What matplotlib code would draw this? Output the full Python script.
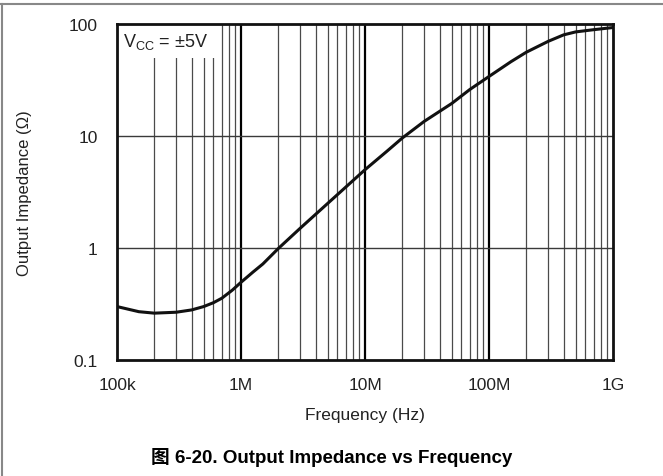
import numpy as np
import matplotlib
matplotlib.use('Agg')
from matplotlib import pyplot as plt
from matplotlib.lines import Line2D
from matplotlib.patches import Rectangle

plt.rcParams['font.family'] = ['Liberation Sans', 'DejaVu Sans']

# values
freq_hz = [1e5, 1.5e5, 2e5, 3e5, 4e5, 5e5, 6e5, 7e5, 8.5e5, 1e6, 1.25e6,
           1.5e6, 2e6, 3e6, 5e6, 7e6, 1e7, 1.5e7, 2e7, 3e7, 5e7, 7e7, 1e8,
           1.5e8, 2e8, 3e8, 4e8, 5e8, 7e8, 1e9]
impedance_ohm = [0.30, 0.27, 0.262, 0.267, 0.28, 0.30, 0.325, 0.356, 0.42,
                 0.494, 0.61, 0.72, 0.99, 1.5, 2.5, 3.5, 5.0, 7.3, 9.6,
                 13.5, 19.5, 26, 34, 46, 56, 70, 80, 85, 89, 93]

x_ticks = [1e5, 1e6, 1e7, 1e8, 1e9]
x_labels = ['100k', '1M', '10M', '100M', '1G']
y_ticks = [0.1, 1, 10, 100]
y_labels = ['0.1', '1', '10', '100']

fig = plt.figure(figsize=(6.63, 4.77), dpi=100)
ax = fig.add_axes([117 / 663, 1 - 361 / 477, 496 / 663, 336 / 477])

ax.set_xscale('log')
ax.set_yscale('log')
ax.set_xlim(1e5, 1e9)
ax.set_ylim(0.1, 100)

# grid: heavy decade lines, light minor lines on x only
for d in x_ticks[1:-1]:
    ax.axvline(d, color='black', lw=1.6, zorder=1)
for d in x_ticks[:-1]:
    for m in range(2, 10):
        ax.axvline(d * m, color='#4a4a4a', lw=0.9, zorder=1)
for d in y_ticks[1:-1]:
    ax.axhline(d, color='#3a3a3a', lw=1.0, zorder=1)

ax.plot(freq_hz, impedance_ohm, color='#111111', lw=2.2, zorder=3,
        solid_capstyle='round', solid_joinstyle='round')

# white box behind the supply label
ax.add_patch(Rectangle((0, 0.9), 0.204, 0.1, transform=ax.transAxes,
                       facecolor='white', edgecolor='none', zorder=2))
ax.text(0.013, 0.935, r'V$_{\mathregular{CC}}$ = ±5V', transform=ax.transAxes,
        fontsize=13, va='baseline', ha='left', color='#222222', zorder=4)

ax.set_xticks(x_ticks)
ax.set_xticklabels(x_labels)
ax.set_yticks(y_ticks)
ax.set_yticklabels(y_labels)
ax.minorticks_off()
ax.tick_params(length=0, labelsize=12.5, labelcolor='#222222')
ax.tick_params(axis='x', pad=12)
ax.tick_params(axis='y', pad=14)

for s in ax.spines.values():
    s.set_linewidth(2.0)
    s.set_color('#111111')
    s.set_zorder(5)

ax.set_xlabel('Frequency (Hz)', fontsize=12.5, color='#222222', labelpad=11)
ax.set_ylabel('Output Impedance (Ω)', fontsize=12, color='#222222', labelpad=26)

fig.text(0.5, 1 - 458 / 477, '图 6-20. Output Impedance vs Frequency',
         ha='center', va='center', fontsize=13.5, fontweight='bold',
         family=['Liberation Sans', 'Noto Sans CJK SC'])

# page frame lines
fig.add_artist(Line2D([0, 1], [1 - 4.5 / 477, 1 - 4.5 / 477], color='#888888', lw=1.5))
fig.add_artist(Line2D([1.5 / 663, 1.5 / 663], [0, 1 - 4.5 / 477], color='#888888', lw=1.5))

fig.savefig('out.png', dpi=100)
